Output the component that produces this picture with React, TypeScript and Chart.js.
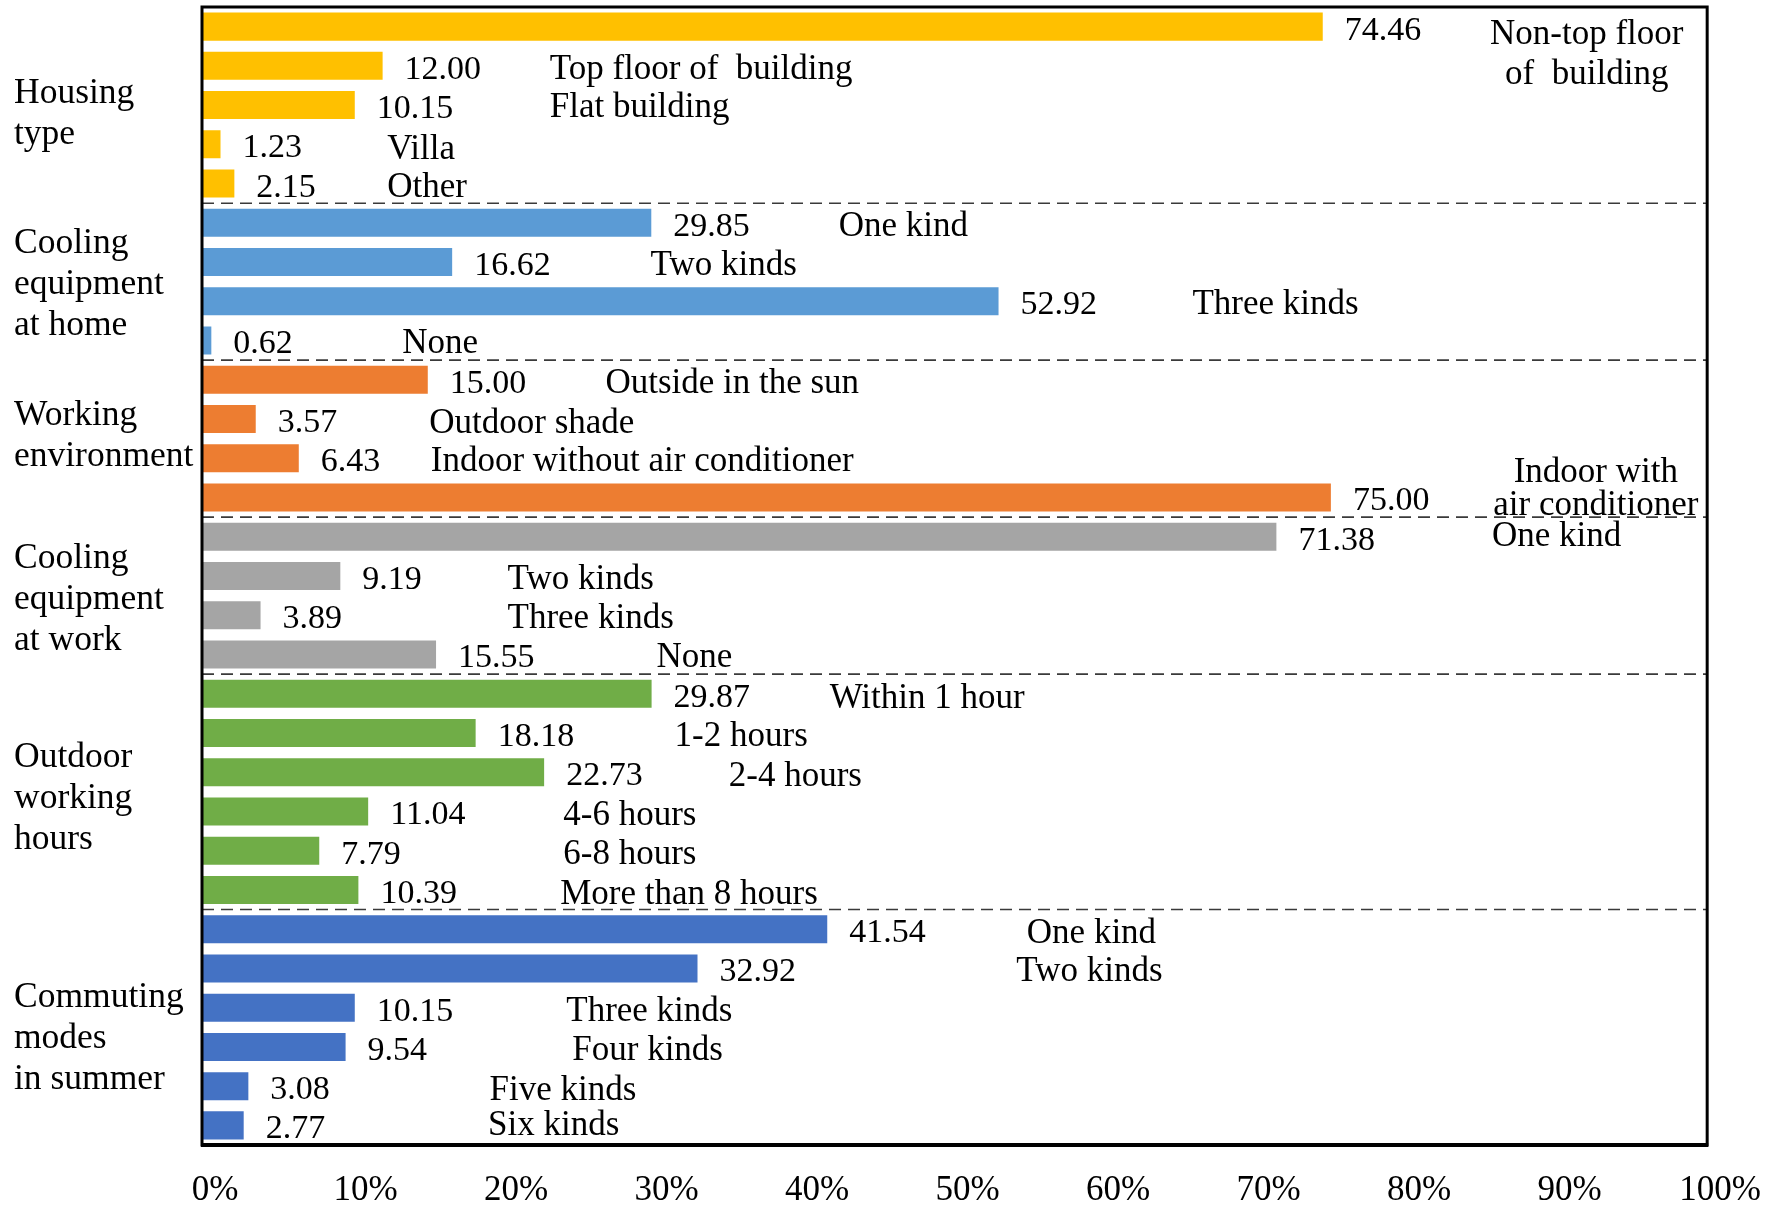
import React, { useEffect, useRef } from "react";
import { Chart, registerables } from "chart.js";

Chart.register(...registerables);

// ---------- data ----------
const groupTitles: string[][] = [
  ["Housing", "type"],
  ["Cooling", "equipment", "at home"],
  ["Working", "environment"],
  ["Cooling", "equipment", "at work"],
  ["Outdoor", "working", "hours"],
  ["Commuting", "modes", "in summer"],
];

const housingItems = ["Non-top floor\nof  building", "Top floor of  building", "Flat building", "Villa", "Other"];
const housingValues = [74.46, 12.0, 10.15, 1.23, 2.15];

const homeCoolingItems = ["One kind", "Two kinds", "Three kinds", "None"];
const homeCoolingValues = [29.85, 16.62, 52.92, 0.62];

const workEnvItems = ["Outside in the sun", "Outdoor shade", "Indoor without air conditioner", "Indoor with\nair conditioner"];
const workEnvValues = [15.0, 3.57, 6.43, 75.0];

const workCoolingItems = ["One kind", "Two kinds", "Three kinds", "None"];
const workCoolingValues = [71.38, 9.19, 3.89, 15.55];

const outdoorHourItems = ["Within 1 hour", "1-2 hours", "2-4 hours", "4-6 hours", "6-8 hours", "More than 8 hours"];
const outdoorHourValues = [29.87, 18.18, 22.73, 11.04, 7.79, 10.39];

const commuteItems = ["One kind", "Two kinds", "Three kinds", "Four kinds", "Five kinds", "Six kinds"];
const commuteValues = [41.54, 32.92, 10.15, 9.54, 3.08, 2.77];

const xTickValues = [0, 10, 20, 30, 40, 50, 60, 70, 80, 90, 100];

// where each item name sits along the % axis (left edge; centre for two-line names)
const itemLabelAt = [
  92.0, 23.1, 23.1, 12.3, 12.3,
  42.3, 29.8, 65.8, 13.3,
  26.8, 15.1, 15.2, 92.6,
  85.7, 20.3, 20.3, 30.2,
  41.7, 31.4, 35.0, 24.0, 24.0, 23.8,
  54.8, 54.1, 24.2, 24.6, 19.1, 19.0,
];
// vertical nudge of each item name (px, first line)
const itemLabelDy = [
  8, 4, 3, 5, 4,
  4, 4, 4, 3,
  4, 5, 4, -25,
  0, 4, 4, 3,
  5, 4, 5, 4, 4, 5,
  5, 3, 4, 4, 5, 0,
];
const itemLineGap = [40, 0, 0, 0, 0, 0, 0, 0, 0, 0, 0, 0, 33, 0, 0, 0, 0, 0, 0, 0, 0, 0, 0, 0, 0, 0, 0, 0, 0];
// vertical nudge of each group title block (px)
const groupTitleDy = [9, 3, -2, 4, 7, 11];

const groupColors = ["#FFC000", "#5B9BD5", "#ED7D31", "#A5A5A5", "#70AD47", "#4472C4"];

// ---------- derived ----------
const groupItems = [housingItems, homeCoolingItems, workEnvItems, workCoolingItems, outdoorHourItems, commuteItems];
const groupValues = [housingValues, homeCoolingValues, workEnvValues, workCoolingValues, outdoorHourValues, commuteValues];

const allItems: string[] = [];
const allValues: number[] = [];
const allColors: string[] = [];
const groupRanges: [number, number][] = [];
groupItems.forEach((items, g) => {
  const start = allItems.length;
  items.forEach((it, i) => {
    allItems.push(it);
    allValues.push(groupValues[g][i]);
    allColors.push(groupColors[g]);
  });
  groupRanges.push([start, allItems.length - 1]);
});

const FONT = "'Liberation Serif', 'Times New Roman', serif";

const annotatePlugin = {
  id: "annotate",
  beforeDatasetsDraw(chart: any) {
    const { ctx, chartArea } = chart;
    const meta = chart.getDatasetMeta(0);
    ctx.save();
    ctx.strokeStyle = "#3a3a3a";
    ctx.lineWidth = 1.6;
    ctx.setLineDash([12, 7]);
    for (let g = 0; g < groupRanges.length - 1; g++) {
      const a = meta.data[groupRanges[g][1]].y;
      const b = meta.data[groupRanges[g + 1][0]].y;
      const y = (a + b) / 2;
      ctx.beginPath();
      ctx.moveTo(chartArea.left, y);
      ctx.lineTo(chartArea.right, y);
      ctx.stroke();
    }
    ctx.restore();
  },
  afterDatasetsDraw(chart: any) {
    const { ctx, chartArea } = chart;
    const meta = chart.getDatasetMeta(0);
    const xs = chart.scales.x;
    ctx.save();
    ctx.fillStyle = "#000";
    ctx.textBaseline = "middle";
    // value labels
    ctx.font = `34px ${FONT}`;
    ctx.textAlign = "left";
    meta.data.forEach((bar: any, i: number) => {
      ctx.fillText(allValues[i].toFixed(2), bar.x + 22, bar.y + 4);
    });
    // item names
    ctx.font = `35px ${FONT}`;
    meta.data.forEach((bar: any, i: number) => {
      const lines = allItems[i].split("\n");
      const x = xs.getPixelForValue(itemLabelAt[i]);
      ctx.textAlign = lines.length > 1 ? "center" : "left";
      lines.forEach((ln, k) => {
        ctx.fillText(ln, x, bar.y + itemLabelDy[i] + k * itemLineGap[i]);
      });
    });
    // group titles
    ctx.font = `35.5px ${FONT}`;
    ctx.textAlign = "left";
    groupTitles.forEach((lines, g) => {
      const c = (meta.data[groupRanges[g][0]].y + meta.data[groupRanges[g][1]].y) / 2 + groupTitleDy[g];
      const gap = 41;
      const y0 = c - ((lines.length - 1) * gap) / 2;
      lines.forEach((ln, k) => ctx.fillText(ln, 14, y0 + k * gap));
    });
    // frame
    ctx.strokeStyle = "#000";
    ctx.lineWidth = 3;
    ctx.setLineDash([]);
    ctx.strokeRect(chartArea.left, chartArea.top, chartArea.right - chartArea.left, chartArea.bottom - chartArea.top);
    ctx.lineWidth = 4;
    ctx.beginPath();
    ctx.moveTo(chartArea.left - 1, chartArea.bottom);
    ctx.lineTo(chartArea.right + 1, chartArea.bottom);
    ctx.stroke();
    ctx.restore();
  },
};

export default function App() {
  const ref = useRef<HTMLCanvasElement | null>(null);
  useEffect(() => {
    if (!ref.current) return;
    const chart = new Chart(ref.current, {
      type: "bar",
      data: {
        labels: allItems,
        datasets: [
          {
            data: allValues,
            backgroundColor: allColors,
            borderWidth: 0,
            barPercentage: 0.714,
            categoryPercentage: 1,
          },
        ],
      },
      options: {
        indexAxis: "y",
        responsive: false,
        animation: false,
        layout: { padding: { left: 202, right: 65, top: 7, bottom: 0 } },
        plugins: { legend: { display: false }, tooltip: { enabled: false } },
        scales: {
          y: { type: "category", display: false, offset: true },
          x: {
            type: "linear",
            position: "bottom",
            min: 0,
            max: 100,
            afterBuildTicks: (scale: any) => {
              scale.ticks = xTickValues.map((v) => ({ value: v }));
            },
            afterFit: (scale: any) => {
              scale.height = 66;
            },
            grid: { display: false, drawTicks: false },
            border: { display: false },
            ticks: {
              callback: (v: any) => `${v}%`,
              color: "#000",
              font: { family: FONT, size: 35 },
              padding: 25,
              labelOffset: 13,
              maxRotation: 0,
              autoSkip: false,
            },
          },
        },
      },
      plugins: [annotatePlugin],
    } as any);
    return () => chart.destroy();
  }, []);
  return (
    <div style={{ position: "fixed", left: 0, top: 0, width: 1773, height: 1211, background: "#fff" }}>
      <canvas ref={ref} width={1773} height={1211} style={{ display: "block" }} />
    </div>
  );
}
